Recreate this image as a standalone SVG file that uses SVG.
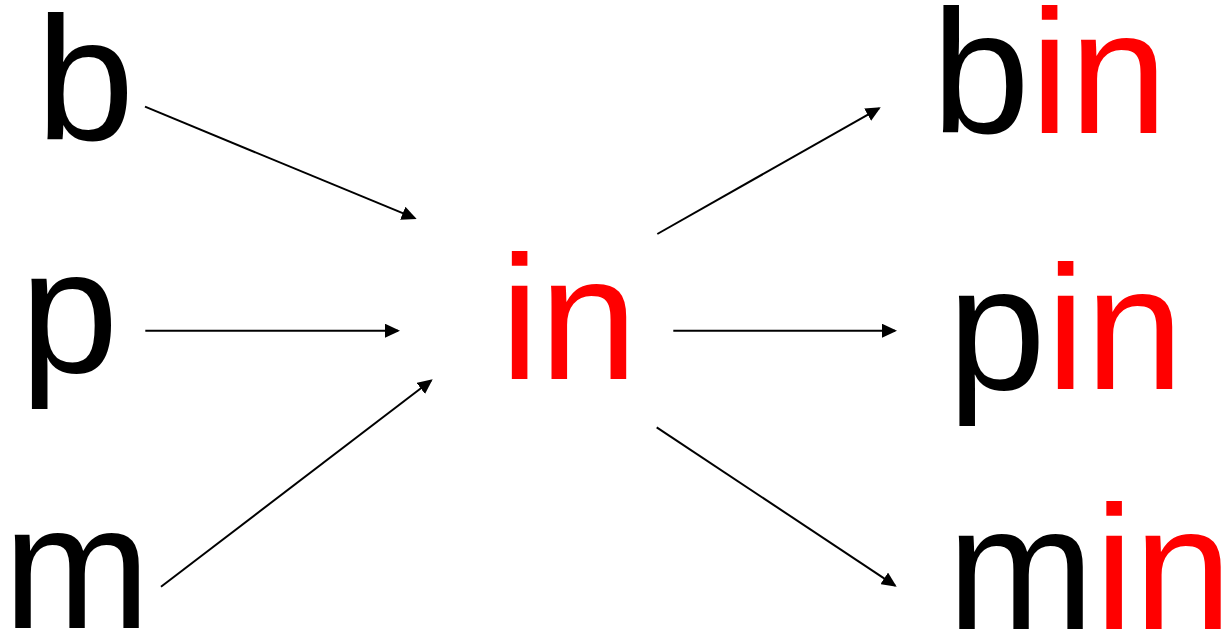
<svg xmlns="http://www.w3.org/2000/svg" width="1229" height="636" viewBox="0 0 1229 636">
<style>
.t{font-family:"Liberation Sans",Arial,sans-serif;font-size:177px;fill:#000}
.r{fill:#FF0000}
.c line{stroke:#000;stroke-width:2;fill:none}
</style>
<defs>
<marker id="ah" viewBox="0 0 15 14" refX="13" refY="7" markerWidth="15" markerHeight="14" markerUnits="userSpaceOnUse" orient="auto">
<path d="M0,0 L15,7 L0,14 Z" fill="#000"/>
</marker>
</defs>
<rect width="1229" height="636" fill="#fff"/>
<g id="node-b"><text class="t" x="36" y="140">b</text></g>
<g id="node-p"><text class="t" x="20" y="372">p</text></g>
<g id="node-m"><text class="t" x="3" y="628">m</text></g>
<g id="node-in"><text class="t r" x="500" y="379">in</text></g>
<g id="node-bin"><text class="t" x="931.5" y="133">b<tspan class="r">in</tspan></text></g>
<g id="node-pin"><text class="t" x="947.5" y="389">p<tspan class="r">in</tspan></text></g>
<g id="node-min"><text class="t" x="947" y="629">m<tspan class="r">in</tspan></text></g>
<g id="connectors" class="c">
<line x1="145" y1="106.7" x2="414.8" y2="218.2" marker-end="url(#ah)"/>
<line x1="145.3" y1="330.7" x2="398" y2="330.7" marker-end="url(#ah)"/>
<line x1="161" y1="586.7" x2="431.1" y2="380.5" marker-end="url(#ah)"/>
<line x1="657.3" y1="234" x2="879" y2="108.3" marker-end="url(#ah)"/>
<line x1="673.3" y1="330.7" x2="895" y2="330.7" marker-end="url(#ah)"/>
<line x1="656.7" y1="427.3" x2="895" y2="585.6" marker-end="url(#ah)"/>
</g>
</svg>
